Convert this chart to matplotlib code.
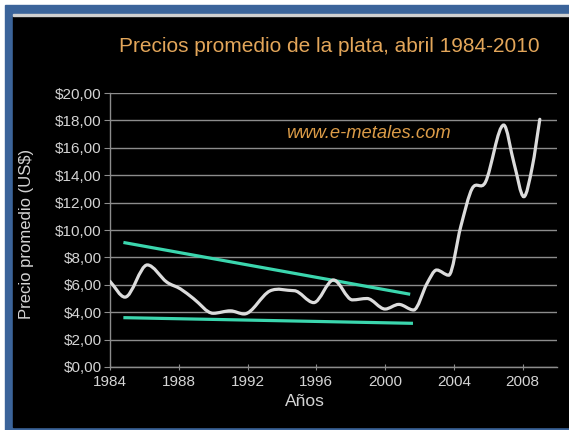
import numpy as np
import matplotlib
matplotlib.use("Agg")
import matplotlib.pyplot as plt
import matplotlib.patches as mpatches
from matplotlib.path import Path

plt.rcParams['font.family'] = ['Liberation Sans', 'DejaVu Sans']

# precio promedio de la plata
years = [1984.0, 1984.87, 1986.17, 1987.3, 1988.1, 1988.85, 1990.0, 1991.0, 1991.8,
         1993.3, 1994.7, 1995.85, 1997.0, 1998.1, 1998.95, 2000.0, 2000.8, 2001.66,
         2002.44, 2003.0, 2003.7, 2004.4, 2005.07, 2005.84, 2006.9, 2007.5, 2008.07,
         2008.56, 2009.0]
prices = [6.25, 5.1, 7.45, 6.2, 5.7, 5.0, 3.92, 4.1, 3.87,
          5.55, 5.57, 4.7, 6.35, 4.9, 5.0, 4.23, 4.57, 4.16,
          6.1, 7.08, 6.7, 10.24, 13.04, 13.5, 17.66, 14.87, 12.43,
          14.6, 18.08]

# lineas de tendencia
upper_x = [1984.87, 2001.37]
upper_y = [9.07, 5.33]
lower_x = [1984.87, 2001.53]
lower_y = [3.6, 3.19]

xticks = [1984, 1988, 1992, 1996, 2000, 2004, 2008]
yticks = list(range(0, 21, 2))

W, H = 569, 430
fig = plt.figure(figsize=(W / 100, H / 100), dpi=100, facecolor='white')

# marco azul y fondo negro
fig.patches.append(mpatches.Rectangle((5 / W, 0), 1, (H - 5) / H, transform=fig.transFigure,
                                      color='#3b649a', zorder=-3))
fig.patches.append(mpatches.Rectangle((13 / W, 3 / H), 1, (H - 16) / H - 3 / H,
                                      transform=fig.transFigure, color='black', zorder=-2))
fig.patches.append(mpatches.Rectangle((13 / W, (H - 16) / H), 1, 2 / H, transform=fig.transFigure,
                                      color='#d0d0d0', zorder=-1))

ax = fig.add_axes([110 / W, 1 - 367 / H, (557 - 110) / W, (367 - 93) / H])
ax.set_facecolor('none')
ax.set_xlim(1984, 2010)
ax.set_ylim(0, 20)

for t in yticks:
    ax.axhline(t, color='#8c8c8c', lw=1.0, zorder=1)

# curva suave con segmentos bezier (hermite con pendiente cero en extremos)
x = np.array(years)
y = np.array(prices)
n = len(x)
m = np.zeros(n)
for i in range(n):
    if i == 0:
        m[i] = (y[1] - y[0]) / (x[1] - x[0])
    elif i == n - 1:
        m[i] = (y[-1] - y[-2]) / (x[-1] - x[-2])
    else:
        d0 = (y[i] - y[i - 1]) / (x[i] - x[i - 1])
        d1 = (y[i + 1] - y[i]) / (x[i + 1] - x[i])
        if d0 * d1 <= 0:
            m[i] = 0
        else:
            m[i] = (y[i + 1] - y[i - 1]) / (x[i + 1] - x[i - 1])
verts = [(x[0], y[0])]
codes = [Path.MOVETO]
for i in range(n - 1):
    h = (x[i + 1] - x[i]) / 3
    verts += [(x[i] + h, y[i] + m[i] * h), (x[i + 1] - h, y[i + 1] - m[i + 1] * h), (x[i + 1], y[i + 1])]
    codes += [Path.CURVE4] * 3
ax.add_patch(mpatches.PathPatch(Path(verts, codes), fill=False, edgecolor='#dcdcdc', lw=2.3,
                                capstyle='round', zorder=4))

ax.plot(upper_x, upper_y, color='#3bd6ae', lw=2.3, zorder=3)
ax.plot(lower_x, lower_y, color='#3bd6ae', lw=2.3, zorder=3)

for s in ['top', 'right']:
    ax.spines[s].set_visible(False)
for s in ['left', 'bottom']:
    ax.spines[s].set_color('#8c8c8c')
    ax.spines[s].set_linewidth(1.0)

ax.set_xticks(xticks)
ax.set_yticks(yticks)
ax.set_yticklabels([f"${v},00" for v in yticks])
ax.tick_params(axis='both', colors='#8c8c8c', labelcolor='#d4d4d4', labelsize=11)
ax.tick_params(axis='y', length=4, pad=2)
ax.tick_params(axis='x', direction='inout', length=5, pad=3)

ax.set_xlabel("Años", color='#d4d4d4', fontsize=12.5)
ax.xaxis.set_label_coords(0.436, -0.1)
ax.set_ylabel("Precio promedio (US$)", color='#d4d4d4', fontsize=12)
ax.yaxis.set_label_coords(-0.17, 0.485)

fig.text(329 / W, 1 - 47 / H, "Precios promedio de la plata, abril 1984-2010", color='#e3a65a',
         fontsize=15, ha='center', va='center')
ax.text(368 / W, 1 - 133 / H, "www.e-metales.com", transform=fig.transFigure, color='#dc9c48',
        fontsize=13.2, style='italic', ha='center', va='center')

fig.savefig("out.png", dpi=100, facecolor='white')
